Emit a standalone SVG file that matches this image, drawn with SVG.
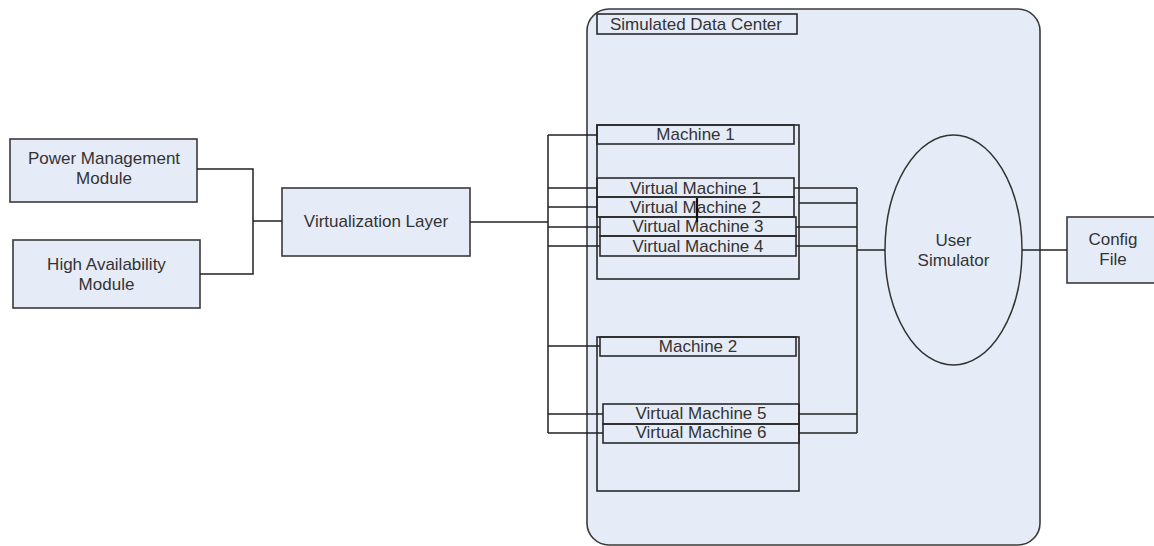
<svg xmlns="http://www.w3.org/2000/svg" width="1154" height="546" viewBox="0 0 1154 546">
<style>
.box{fill:#E6ECF7;stroke:#3a3a3a;stroke-width:1.6}
.ibox{fill:none;stroke:#2a2a2a;stroke-width:1.6}
.ln{fill:none;stroke:#222;stroke-width:1.5}
text{font-family:"Liberation Sans",Arial,sans-serif;font-size:17px;fill:#333;text-anchor:middle}
</style>
<rect width="1154" height="546" fill="#fff"/>
<g id="datacenter">
<rect class="box" x="587" y="9" width="453" height="536" rx="22" ry="22"/>
<rect class="ibox" x="597" y="14" width="200" height="20"/>
<text x="610" y="29.5" style="text-anchor:start">Simulated Data Center</text>
</g>
<g id="power-management">
<rect class="box" x="10" y="139" width="187" height="63"/>
<text x="104" y="164">Power Management</text>
<text x="104" y="184">Module</text>
</g>
<g id="high-availability">
<rect class="box" x="13" y="240" width="187" height="68"/>
<text x="106.5" y="270">High Availability</text>
<text x="106.5" y="290">Module</text>
</g>
<g id="virtualization-layer">
<rect class="box" x="282" y="188" width="188" height="68"/>
<text x="376" y="227">Virtualization Layer</text>
</g>
<g id="machine1">
<rect class="ibox" x="597" y="125" width="202" height="154"/>
<rect class="ibox" x="597" y="125" width="197" height="19"/>
<text x="695.5" y="140">Machine 1</text>
</g>
<g id="vm1">
<rect class="ibox" x="597" y="178" width="197" height="19"/>
<text x="695.5" y="193.5">Virtual Machine 1</text>
</g>
<g id="vm2">
<rect class="ibox" x="597" y="197" width="197" height="20"/>
<text x="695.5" y="213">Virtual Machine 2</text>
</g>
<g id="vm3">
<rect class="ibox" x="600" y="217" width="196" height="19"/>
<text x="698" y="232">Virtual Machine 3</text>
</g>
<g id="vm4">
<rect class="ibox" x="600" y="236" width="196" height="20"/>
<text x="698" y="251.5">Virtual Machine 4</text>
</g>
<g id="machine2">
<rect class="ibox" x="597" y="337" width="202" height="154"/>
<rect class="ibox" x="600" y="337" width="196" height="19"/>
<text x="698" y="352">Machine 2</text>
</g>
<g id="vm5">
<rect class="ibox" x="603" y="404" width="196" height="20"/>
<text x="701" y="419">Virtual Machine 5</text>
</g>
<g id="vm6">
<rect class="ibox" x="603" y="424" width="196" height="19"/>
<text x="701" y="438">Virtual Machine 6</text>
</g>
<g id="user-simulator">
<ellipse cx="953.5" cy="250" rx="68.5" ry="115" fill="none" stroke="#333" stroke-width="1.5"/>
<text x="953.5" y="246">User</text>
<text x="953.5" y="266">Simulator</text>
</g>
<g id="config-file">
<rect class="box" x="1067" y="217" width="95" height="66"/>
<text x="1113" y="245">Config</text>
<text x="1113" y="265">File</text>
</g>
<g id="connectors">
<path class="ln" d="M197 169H253V274H200M253 221H282"/>
<path class="ln" d="M470 222H548"/>
<path class="ln" d="M548 135V433M548 135H597M548 188H597M548 207H597M548 227H600M548 246H600M548 346H600M548 414H603M548 433H603"/>
<path class="ln" d="M857 188V433M794 188H857M799 203H857M796 227H857M796 246H857M799 414H857M799 433H857M857 250H885"/>
<path class="ln" d="M1022 250H1067"/>
<path d="M697 198V222" stroke="#111" stroke-width="2.2" fill="none"/>
</g>
</svg>
